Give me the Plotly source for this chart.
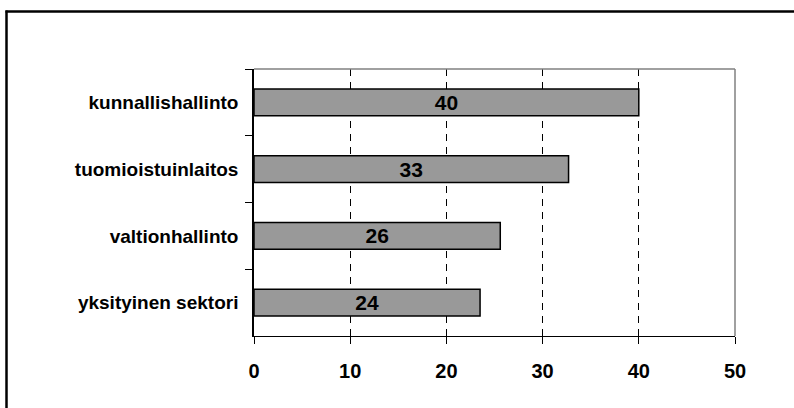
import plotly.graph_objects as go

categories = ["kunnallishallinto", "tuomioistuinlaitos", "valtionhallinto", "yksityinen sektori"]
values = [40.0, 32.7, 25.6, 23.5]
x_ticks = [0, 10, 20, 30, 40, 50]

FONT = "Liberation Sans, Arial, sans-serif"

fig = go.Figure()
fig.add_trace(go.Bar(
    y=categories,
    x=values,
    orientation="h",
    width=0.4,
    marker=dict(color="#999999", line=dict(color="#000000", width=1.5)),
    texttemplate="%{x:.0f}",
    textposition="inside",
    insidetextanchor="middle",
    constraintext="none",
    textangle=0,
    textfont=dict(family=FONT, size=21, color="#000000", weight="bold"),
    hoverinfo="skip",
))

# Plot-area margins (px)
L, R, T, B = 254, 59, 69, 72
W, H = 794, 408
pw, ph = W - L - R, H - T - B

def px_x(p):
    return (p - L) / pw

def px_y(p):
    return (H - B - p) / ph

shapes = [
    dict(type="line", xref="paper", yref="paper", x0=0, x1=1, y0=1, y1=1,
         line=dict(color="#808080", width=1.5), layer="above"),
    dict(type="line", xref="paper", yref="paper", x0=1, x1=1, y0=0, y1=1,
         line=dict(color="#808080", width=1.5), layer="above"),
    dict(type="line", xref="paper", yref="paper", x0=px_x(5.5), x1=px_x(W + 5), y0=px_y(11.5), y1=px_y(11.5),
         line=dict(color="#000000", width=2.5)),
    dict(type="line", xref="paper", yref="paper", x0=px_x(6.5), x1=px_x(6.5), y0=px_y(10.5), y1=px_y(H + 5),
         line=dict(color="#000000", width=2.5)),
]

fig.update_layout(
    width=W, height=H,
    margin=dict(l=L, r=R, t=T, b=B, pad=0),
    plot_bgcolor="#ffffff",
    paper_bgcolor="#ffffff",
    showlegend=False,
    bargap=0.6,
    shapes=shapes,
    font=dict(family=FONT, color="#000000"),
    xaxis=dict(
        range=[0, 50],
        tickvals=x_ticks,
        ticktext=[str(v) for v in x_ticks],
        showgrid=True,
        gridcolor="#000000",
        gridwidth=1,
        griddash="7px,6px",
        zeroline=False,
        showline=True,
        linecolor="#000000",
        linewidth=1,
        ticks="outside",
        ticklen=7,
        tickcolor="#000000",
        tickwidth=1,
        ticklabelstandoff=10,
        tickfont=dict(family=FONT, size=20, color="#000000", weight="bold"),
        fixedrange=True,
    ),
    yaxis=dict(
        type="category",
        categoryorder="array",
        categoryarray=categories,
        autorange="reversed",
        tickson="boundaries",
        ticks="outside",
        ticklen=7,
        tickcolor="#000000",
        tickwidth=1,
        showgrid=False,
        zeroline=False,
        showline=True,
        linecolor="#000000",
        linewidth=1.5,
        ticklabelstandoff=10,
        tickfont=dict(family=FONT, size=19, color="#000000", weight="bold"),
        fixedrange=True,
    ),
)

fig.write_html("out.html", config={"displayModeBar": False})
